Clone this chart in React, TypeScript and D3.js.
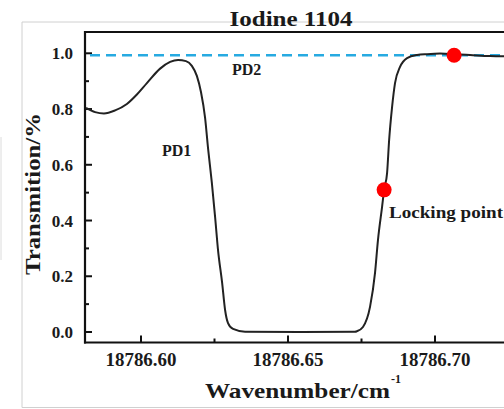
import React from "react";
import * as d3 from "d3";

// transmission curve (wavenumber in cm^-1, transmission)
const wavenumbers = [
  18786.5813, 18786.5844, 18786.5874, 18786.5912, 18786.5952, 18786.5986,
  18786.602, 18786.6065, 18786.6099, 18786.6126, 18786.6153, 18786.6173,
  18786.619, 18786.6204, 18786.6218, 18786.6228, 18786.6241, 18786.6252,
  18786.6262, 18786.6276, 18786.6286, 18786.6296, 18786.6313, 18786.6354,
  18786.6541, 18786.6728, 18786.6735, 18786.6755, 18786.6779, 18786.6796,
  18786.6806, 18786.682, 18786.6827, 18786.6837, 18786.6844, 18786.6854,
  18786.6864, 18786.6881, 18786.6905, 18786.6939, 18786.6973, 18786.7017,
  18786.7065, 18786.7119, 18786.7187, 18786.7255,
];
const transmission = [
  0.804, 0.789, 0.784, 0.795, 0.818, 0.852, 0.893, 0.945, 0.969, 0.976, 0.972,
  0.955, 0.919, 0.861, 0.768, 0.66, 0.535, 0.413, 0.294, 0.176, 0.079, 0.032,
  0.011, 0.001, 0.0, 0.001, 0.003, 0.018, 0.09, 0.212, 0.33, 0.449, 0.51, 0.57,
  0.689, 0.807, 0.893, 0.951, 0.983, 0.994, 0.997, 0.999, 0.997, 0.994, 0.99,
  0.989,
];

const pd2Level = 0.993;
const markers = [
  { w: 18786.6827, t: 0.51 },
  { w: 18786.7065, t: 0.993 },
];

const xTicks = [18786.6, 18786.65, 18786.7];
const xMinor = [18786.625, 18786.675, 18786.725];
const yTicks = [0, 0.2, 0.4, 0.6, 0.8, 1.0];
const yMinor = [0.1, 0.3, 0.5, 0.7, 0.9];

const W = 504;
const H = 409;
const left = 85;
const top = 32;
const bottom = 342.5;
const font = "'Liberation Serif', 'Times New Roman', serif";

export default function App() {
  const x = d3.scaleLinear().domain([18786.6, 18786.7]).range([141, 435]);
  const y = d3.scaleLinear().domain([0, 1]).range([332, 53.3]);

  const pts = wavenumbers.map((w, i) => [w, transmission[i]] as [number, number]);
  const line = d3
    .line<[number, number]>()
    .x((d) => x(d[0]))
    .y((d) => y(d[1]))
    .curve(d3.curveMonotoneX);

  return (
    <svg
      width={W}
      height={H}
      style={{ position: "absolute", left: 0, top: 0, background: "#fff" }}
      fontFamily={font}
      fontWeight="bold"
    >
      <defs>
        <clipPath id="plot">
          <rect x={left} y={top} width={W - left} height={bottom - top} />
        </clipPath>
      </defs>
      {/* faint frame of the cropped figure */}
      <line x1={22} y1={22} x2={W} y2={22} stroke="#d0d0d0" strokeWidth={1} />
      <line x1={22} y1={22} x2={22} y2={407.5} stroke="#d0d0d0" strokeWidth={1} />
      <line x1={22} y1={407.5} x2={W} y2={407.5} stroke="#d0d0d0" strokeWidth={1} />
      <line x1={1} y1={137} x2={1} y2={260} stroke="#dcdcdc" strokeWidth={1} />

      <text x={291} y={25.5} textAnchor="middle" fontSize={22} textLength={123} lengthAdjust="spacingAndGlyphs" fill="#1a1a1a">
        Iodine 1104
      </text>

      {/* axes box */}
      <line x1={left} y1={top} x2={W} y2={top} stroke="#111" strokeWidth={2.2} />
      <line x1={left} y1={top - 1} x2={left} y2={bottom + 1} stroke="#111" strokeWidth={2.2} />
      <line x1={left - 1} y1={bottom} x2={W} y2={bottom} stroke="#111" strokeWidth={2.2} />

      {yTicks.map((t) => (
        <g key={"y" + t}>
          <line x1={left} x2={left + 7} y1={y(t)} y2={y(t)} stroke="#111" strokeWidth={2} />
          <text x={73} y={y(t) + 6} textAnchor="end" fontSize={17} fill="#1a1a1a">
            {d3.format(".1f")(t)}
          </text>
        </g>
      ))}
      {yMinor.map((t) => (
        <line key={"ym" + t} x1={left} x2={left + 4} y1={y(t)} y2={y(t)} stroke="#111" strokeWidth={2} />
      ))}
      {xTicks.map((t) => (
        <g key={"x" + t}>
          <line x1={x(t)} x2={x(t)} y1={bottom} y2={bottom - 7} stroke="#111" strokeWidth={2} />
          <text x={x(t)} y={366} textAnchor="middle" fontSize={18} textLength={71} lengthAdjust="spacingAndGlyphs" fill="#1a1a1a">
            {d3.format(".2f")(t)}
          </text>
        </g>
      ))}
      {xMinor.map((t) => (
        <line key={"xm" + t} x1={x(t)} x2={x(t)} y1={bottom} y2={bottom - 4} stroke="#111" strokeWidth={2} />
      ))}

      <g clipPath="url(#plot)">
        <line
          x1={90}
          x2={W}
          y1={y(pd2Level)}
          y2={y(pd2Level)}
          stroke="#27aae1"
          strokeWidth={2.5}
          strokeDasharray="10 6"
        />
        <path d={line(pts) ?? ""} fill="none" stroke="#222" strokeWidth={2} />
        {markers.map((m, i) => (
          <circle key={i} cx={x(m.w)} cy={y(m.t)} r={7.5} fill="#ff0000" />
        ))}
      </g>

      <text x={162} y={156} fontSize={16} fill="#1a1a1a">PD1</text>
      <text x={232} y={75} fontSize={16} fill="#1a1a1a">PD2</text>
      <text x={389} y={218} fontSize={17} textLength={114} lengthAdjust="spacingAndGlyphs" fill="#1a1a1a">
        Locking point
      </text>

      <text
        transform="translate(40,194) rotate(-90)"
        textAnchor="middle"
        fontSize={22}
        textLength={162}
        lengthAdjust="spacingAndGlyphs"
        fill="#1a1a1a"
      >
        Transmition/%
      </text>
      <text x={205} y={398} fontSize={21} textLength={185} lengthAdjust="spacingAndGlyphs" fill="#1a1a1a">
        Wavenumber/cm
      </text>
      <text x={391} y={383} fontSize={12} fill="#1a1a1a">-1</text>
    </svg>
  );
}
